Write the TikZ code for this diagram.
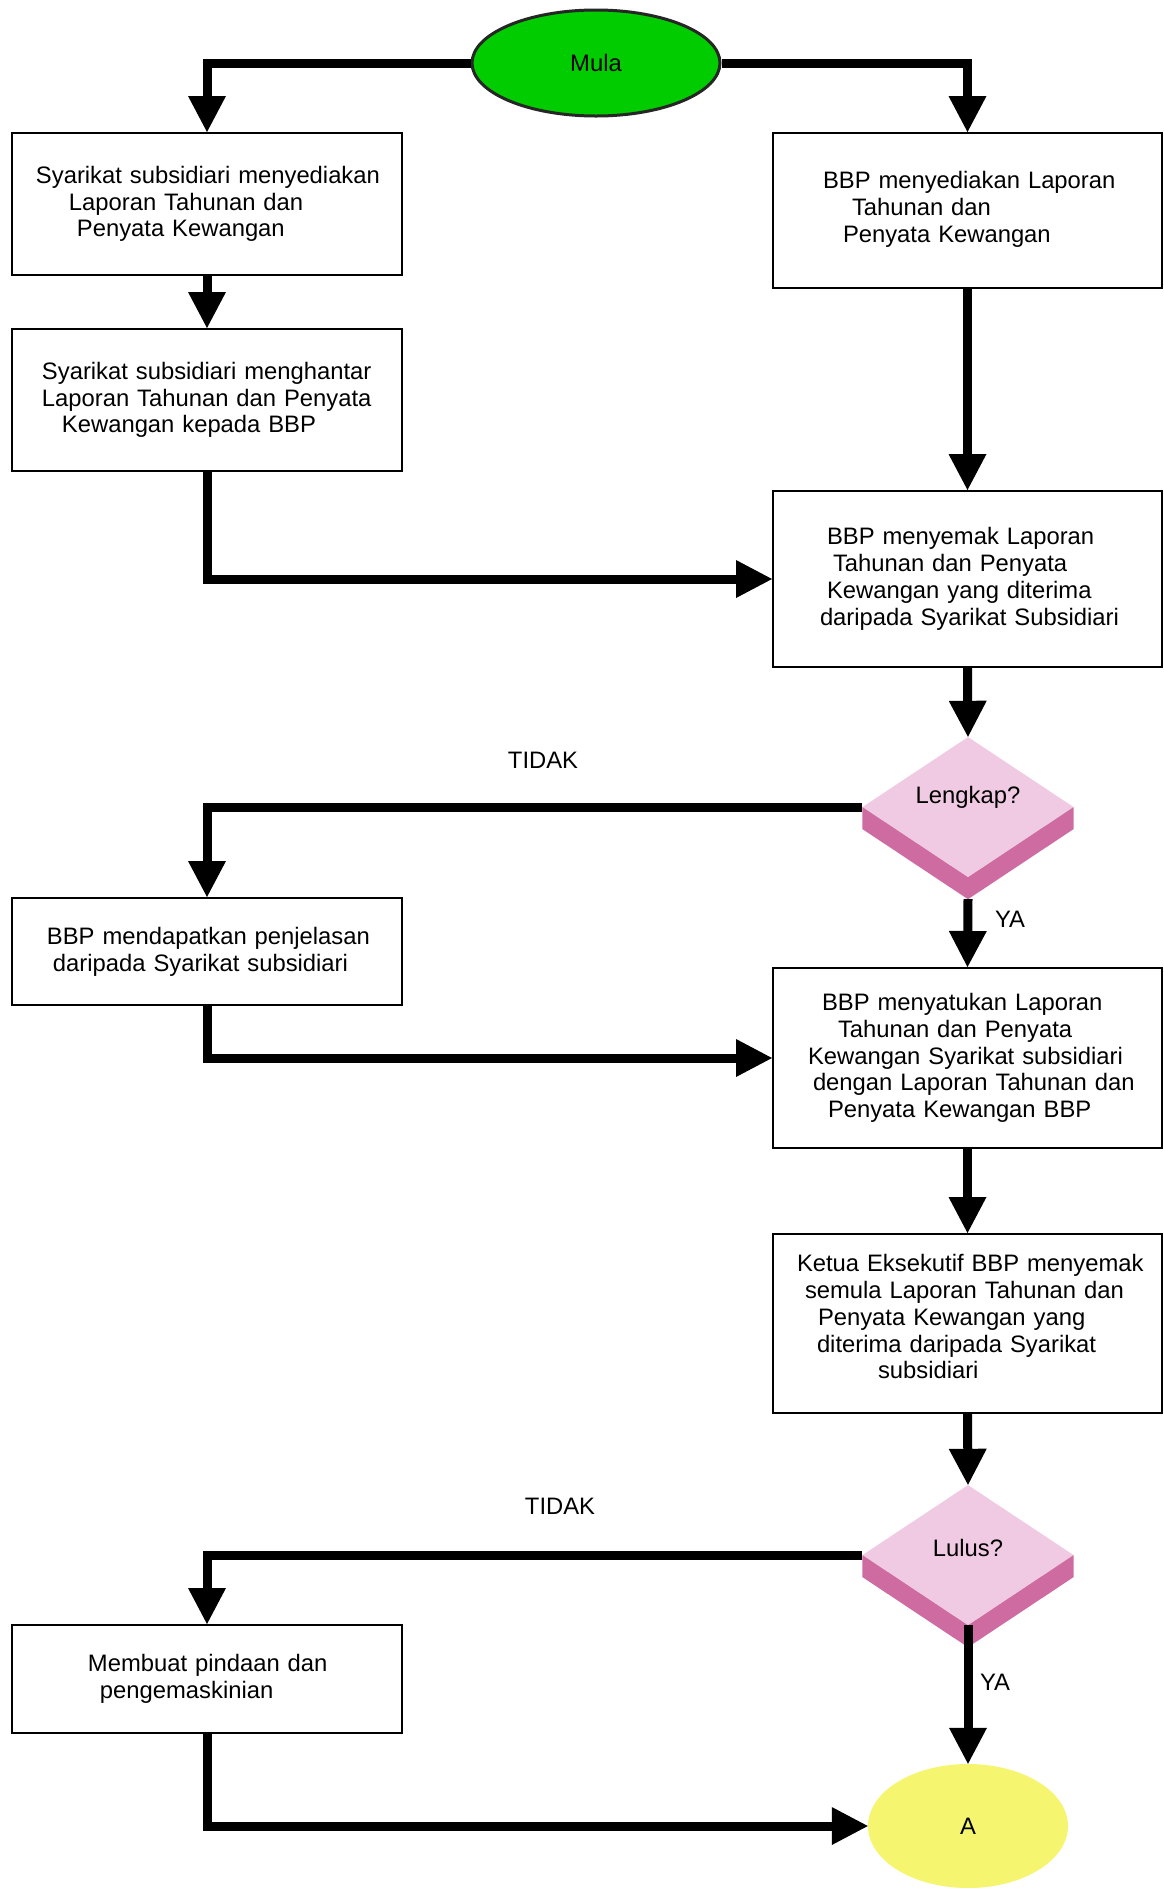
\documentclass[tikz,border=0pt]{standalone}
\usepackage{fontspec}
\setmainfont{Liberation Sans}
\usetikzlibrary{arrows.meta,shapes.geometric,calc}
\definecolor{mulagreen}{RGB}{0,204,0}
\definecolor{diatop}{RGB}{240,202,226}
\definecolor{diaside}{RGB}{206,108,162}
\definecolor{ayellow}{RGB}{245,245,112}
\newcommand{\ind}[1]{\hspace*{#1pt}}
\begin{document}
\begin{tikzpicture}[x=1pt, y=-1pt,
  font=\fontsize{23.8}{26.8}\selectfont,
  box/.style={draw, line width=2pt, inner xsep=0pt, inner ysep=0pt, align=left},
  lbox/.style={box, text width=390pt},
  rbox/.style={box, text width=389pt},
  conn/.style={line width=9pt, -{Triangle[length=36pt,width=38pt,line width=0pt]}},
  dia/.style={diamond, fill=diatop, minimum width=211pt, minimum height=138pt,
              inner sep=0pt, aspect=1.5, text height=17pt},
  lbl/.style={inner sep=2pt}]
\path[use as bounding box, fill=white] (0,0) rectangle (1163,1891);

% start
\node[ellipse, draw=black!85, line width=3pt, fill=mulagreen, minimum width=248pt,
      minimum height=106pt, inner sep=0pt] (mula) at (596,63) {Mula};

% left boxes
\node[lbox, minimum height=142pt] (L1) at (207,204)
  {\ind{24}Syarikat subsidiari menyediakan\\\ind{57}Laporan Tahunan dan\\\ind{65}Penyata Kewangan};
\node[lbox, minimum height=142pt] (L2) at (207,400)
  {\ind{30}Syarikat subsidiari menghantar\\\ind{30}Laporan Tahunan dan Penyata\\\ind{50}Kewangan kepada BBP};
\node[lbox, minimum height=107pt] (L3) at (207,951.5)
  {\ind{35}BBP mendapatkan penjelasan\\\ind{41}daripada Syarikat subsidiari};
\node[lbox, minimum height=108pt] (L4) at (207,1679)
  {\ind{76}Membuat pindaan dan\\\ind{88}pengemaskinian};

% right boxes
\node[rbox, minimum height=155pt] (R1) at (967.5,210.5)
  {\ind{50}BBP menyediakan Laporan\\\ind{79}Tahunan dan\\\ind{70}Penyata Kewangan\\[-19pt]\mbox{}};
\node[rbox, minimum height=176pt] (R2) at (967.5,579)
  {\ind{54}BBP menyemak Laporan\\\ind{60}Tahunan dan Penyata\\\ind{54}Kewangan yang diterima\\\ind{47}daripada Syarikat Subsidiari};
\node[rbox, minimum height=180pt] (R3) at (967.5,1058)
  {\ind{49}BBP menyatukan Laporan\\\ind{65}Tahunan dan Penyata\\\ind{35}Kewangan Syarikat subsidiari\\\ind{40}dengan Laporan Tahunan dan\\\ind{55}Penyata Kewangan BBP};
\node[rbox, minimum height=179pt] (R4) at (967.5,1323.5)
  {\ind{24}Ketua Eksekutif BBP menyemak\\\ind{32}semula Laporan Tahunan dan\\\ind{45}Penyata Kewangan yang\\\ind{44}diterima daripada Syarikat\\\ind{105}subsidiari\\[-13pt]\mbox{}};

% decisions
\node[dia, text depth=24pt, minimum height=140pt] (d1) at (968,807) {Lengkap?};
\fill[diaside] (d1.west) -- (d1.south) -- ($(d1.south)+(0,22)$) -- ($(d1.west)+(0,22)$) -- cycle;
\fill[diaside] (d1.south) -- (d1.east) -- ($(d1.east)+(0,22)$) -- ($(d1.south)+(0,22)$) -- cycle;
\coordinate (d1b) at ($(d1.south)+(0,22)$);

\node[dia, text depth=15pt, minimum height=140pt] (d2) at (968,1555) {Lulus?};
\fill[diaside] (d2.west) -- (d2.south) -- ($(d2.south)+(0,22)$) -- ($(d2.west)+(0,22)$) -- cycle;
\fill[diaside] (d2.south) -- (d2.east) -- ($(d2.east)+(0,22)$) -- ($(d2.south)+(0,22)$) -- cycle;

% end
\node[ellipse, fill=ayellow, minimum width=200pt, minimum height=124pt, inner sep=0pt] (A) at (968,1826) {A};

% labels
\node[lbl] (t1) at (543,760) {TIDAK};
\node[lbl] (y1) at (1010,919) {YA};
\node[lbl] (t2) at (560,1506) {TIDAK};
\node[lbl] (y2) at (995,1682) {YA};

% connectors
\draw[conn] (mula.west) -| (L1.north);
\draw[conn] (mula.east) -| (R1.north);
\draw[conn] (L1.south) -- (L2.north);
\draw[conn] (R1.south) -- (R2.north);
\draw[conn] (L2.south) |- (R2.west);
\draw[conn] (R2.south) -- (d1.north);
\draw[conn] (d1.west) -| (L3.north);
\draw[conn] (d1b) -- (R3.north);
\draw[conn] (L3.south) |- (R3.west);
\draw[conn] (R3.south) -- (R4.north);
\draw[conn] (R4.south) -- (d2.north);
\draw[conn] (d2.west) -| (L4.north);
\draw[conn] (d2.south) -- (A.north);
\draw[conn] (L4.south) |- (A.west);
\end{tikzpicture}
\end{document}
